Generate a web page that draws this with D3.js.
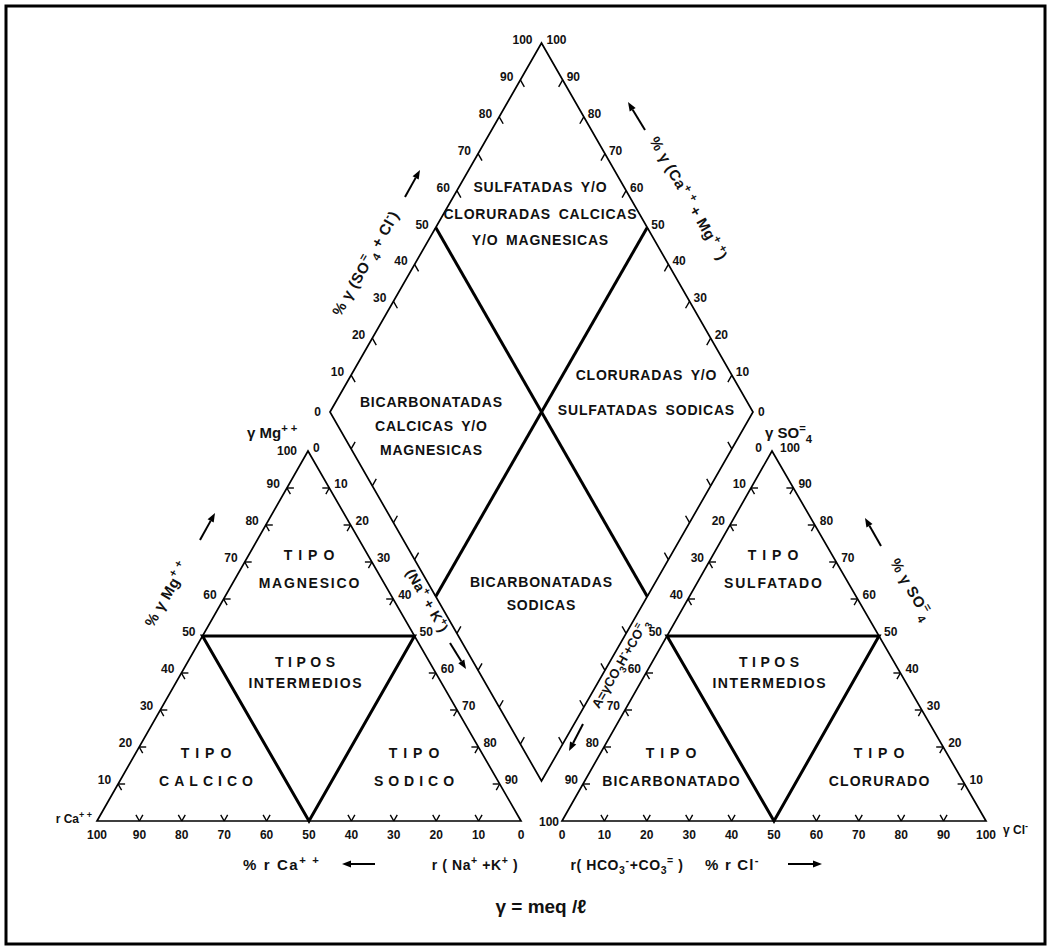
<!DOCTYPE html>
<html>
<head>
<meta charset="utf-8">
<script src="https://cdn.jsdelivr.net/npm/d3@7"></script>
<style>
  body { margin: 0; background: #fff; }
  svg { display: block; }
  text { font-family: "Liberation Sans", Arial, sans-serif; font-weight: bold; fill: #111; }
</style>
</head>
<body>
<script>
// ---- scale divisions (percent of the equivalent sum) ----
const tickValues  = [10, 20, 30, 40, 50, 60, 70, 80, 90];
const scaleLabels = ["10", "20", "30", "40", "50", "60", "70", "80", "90"];
const baseValues  = [0, 10, 20, 30, 40, 50, 60, 70, 80, 90, 100];

// ---- facies names ----
const diamondTop    = ["SULFATADAS Y/O", "CLORURADAS CALCICAS", "Y/O MAGNESICAS"];
const diamondLeft   = ["BICARBONATADAS", "CALCICAS Y/O", "MAGNESICAS"];
const diamondRight  = ["CLORURADAS Y/O", "SULFATADAS SODICAS"];
const diamondBottom = ["BICARBONATADAS", "SODICAS"];
const cationTypes   = [["TIPO", "MAGNESICO"], ["TIPOS", "INTERMEDIOS"], ["TIPO", "CALCICO"], ["TIPO", "SODICO"]];
const anionTypes    = [["TIPO", "SULFATADO"], ["TIPOS", "INTERMEDIOS"], ["TIPO", "BICARBONATADO"], ["TIPO", "CLORURADO"]];

// ---- axis names (^{} superscript, _{} subscript) ----
const titleMg     = "% γ Mg^{+ +}";
const titleSO4Cl  = "% γ (SO^{=}_{4} + Cl^{-})";
const titleCaMg   = "% γ (Ca^{+ +} + Mg^{+ +})";
const titleSO4    = "% γ SO^{=}_{4}";
const titleNaK    = "(Na^{+} + K^{+})";
const titleHCO3   = "A=γCO_{3}H^{-}+CO^{=}_{3}";
const cornerMg    = "γ Mg^{+ +}";
const cornerSO4   = "γ SO^{=}_{4}";
const cornerCa    = "r Ca^{+ +}";
const cornerCl    = "γ Cl^{-}";
const footCa      = "%  r Ca^{+ +}";
const footNaK     = "r ( Na^{+} +K^{+} )";
const footHCO3    = "r( HCO_{3}^{-}+CO_{3}^{=} )";
const footCl      = "%  r Cl^{-}";
const unitNote    = "γ = meq /ℓ";

// ---------------------------------------------------------------
const W = 1052, H = 951;
const svg = d3.select("body").append("svg").attr("width", W).attr("height", H);

svg.append("rect").attr("x", 6).attr("y", 6).attr("width", 1039).attr("height", 938)
  .attr("fill", "none").attr("stroke", "#000").attr("stroke-width", 3);

// corners of the three fields
const LT = { a: [97, 821], b: [521, 821], c: [308, 451] };   // cations
const RT = { a: [562, 821], b: [986, 821], c: [772, 451] };  // anions
const DM = { top: [541.5, 43], left: [330, 412], right: [753, 412], bottom: [541.5, 781] };

// position along an edge: value 0 at p0, 100 at p1
const pct = d3.scaleLinear().domain([0, 100]).range([0, 1]);
function along(p0, p1, v) {
  const t = pct(v);
  return [p0[0] + (p1[0] - p0[0]) * t, p0[1] + (p1[1] - p0[1]) * t];
}
function unit(from, to) {
  const dx = to[0] - from[0], dy = to[1] - from[1], L = Math.hypot(dx, dy);
  return [dx / L, dy / L];
}

const line = d3.line();
const gLines = svg.append("g").attr("fill", "none").attr("stroke", "#000").attr("stroke-linejoin", "miter");

function outline(pts, w) {
  gLines.append("path").attr("d", line(pts) + "Z").attr("stroke-width", w);
}
outline([LT.a, LT.b, LT.c], 1.7);
outline([RT.a, RT.b, RT.c], 1.7);
outline([DM.left, DM.top, DM.right, DM.bottom], 1.7);

// triangle edge ticks: two short strokes pointing into the field
function triTicks(p0, p1, q) {
  const u0 = unit(p0, q), u1 = unit(p1, q), len = 7;
  tickValues.forEach(v => {
    const p = along(p0, p1, v);
    [u0, u1].forEach(u => {
      gLines.append("path").attr("stroke-width", 1.4)
        .attr("d", line([p, [p[0] + u[0] * len, p[1] + u[1] * len]]));
    });
  });
}
triTicks(LT.a, LT.b, LT.c);
triTicks(LT.a, LT.c, LT.b);
triTicks(LT.c, LT.b, LT.a);
triTicks(RT.a, RT.b, RT.c);
triTicks(RT.a, RT.c, RT.b);
triTicks(RT.c, RT.b, RT.a);

// diamond edge ticks: one stroke parallel to the neighbouring edge
function dmTicks(p0, p1, dir) {
  const len = 8;
  tickValues.forEach(v => {
    const p = along(p0, p1, v);
    gLines.append("path").attr("stroke-width", 1.4)
      .attr("d", line([p, [p[0] + dir[0] * len, p[1] + dir[1] * len]]));
  });
}
dmTicks(DM.left, DM.top, unit(DM.top, DM.right));
dmTicks(DM.right, DM.top, unit(DM.top, DM.left));
dmTicks(DM.left, DM.bottom, unit(DM.bottom, DM.right));
dmTicks(DM.right, DM.bottom, unit(DM.bottom, DM.left));

// facies boundaries (50 % lines)
function innerTriangle(T) {
  const p1 = along(T.a, T.c, 50), p2 = along(T.c, T.b, 50), p3 = along(T.a, T.b, 50);
  gLines.append("path").attr("d", line([p1, p2, p3]) + "Z").attr("stroke-width", 3);
}
innerTriangle(LT);
innerTriangle(RT);
gLines.append("path").attr("stroke-width", 3)
  .attr("d", line([along(DM.left, DM.top, 50), along(DM.right, DM.bottom, 50)]));
gLines.append("path").attr("stroke-width", 3)
  .attr("d", line([along(DM.right, DM.top, 50), along(DM.left, DM.bottom, 50)]));

// ---- text helpers ----
function rich(sel, str, size) {
  const re = /([\^_])\{([^}]*)\}|([^\^_]+)/g;
  let m, shift = 0;
  while ((m = re.exec(str))) {
    if (m[3]) {
      sel.append("tspan").attr("dy", -shift).text(m[3]);
      shift = 0;
    } else {
      const d = m[1] === "^" ? -0.42 * size : 0.32 * size;
      sel.append("tspan").attr("dy", d - shift).attr("font-size", size * 0.75).text(m[2]);
      shift = d;
    }
  }
  return sel;
}
function label(x, y, str, size, anchor, rotate, spacing) {
  const t = svg.append("text")
    .attr("font-size", size)
    .attr("text-anchor", anchor || "middle")
    .attr("letter-spacing", spacing || 0)
    .attr("transform", `translate(${x},${y})` + (rotate ? ` rotate(${rotate})` : ""));
  return rich(t, str, size);
}

// ---- scale numbers ----
const gNum = svg.append("g").attr("font-size", 12);
function edgeNumbers(p0, p1, side, dx, dy) {
  tickValues.forEach((v, i) => {
    const p = along(p0, p1, v);
    gNum.append("text").attr("x", p[0] + dx).attr("y", p[1] + dy)
      .attr("text-anchor", side).text(scaleLabels[i]);
  });
}
edgeNumbers(LT.a, LT.c, "end", -7, 0);
edgeNumbers(LT.c, LT.b, "start", 5, 0);
edgeNumbers(RT.c, RT.a, "end", -5, 0);
edgeNumbers(RT.b, RT.c, "start", 5, 0);
edgeNumbers(DM.left, DM.top, "end", -7, 1);
edgeNumbers(DM.right, DM.top, "start", 4, 1);

// base scales
const caScale = d3.scaleLinear().domain([100, 0]).range([LT.a[0], LT.b[0]]);
const clScale = d3.scaleLinear().domain([0, 100]).range([RT.a[0], RT.b[0]]);
baseValues.forEach(v => {
  gNum.append("text").attr("x", caScale(v)).attr("y", LT.a[1] + 18).attr("text-anchor", "middle").text(v);
  gNum.append("text").attr("x", clScale(v)).attr("y", RT.a[1] + 18).attr("text-anchor", "middle").text(v);
});

// corner numbers
function num(x, y, t, anchor) {
  gNum.append("text").attr("x", x).attr("y", y).attr("text-anchor", anchor).text(t);
}
num(LT.c[0] - 11, LT.c[1] + 4, "100", "end");
num(LT.c[0] + 5, LT.c[1] + 1, "0", "start");
num(RT.c[0] - 10, RT.c[1] + 1, "0", "end");
num(RT.c[0] + 8, RT.c[1] + 1, "100", "start");
num(RT.a[0] - 3, RT.a[1] + 5, "100", "end");
num(DM.top[0] - 9, DM.top[1] + 1, "100", "end");
num(DM.top[0] + 5, DM.top[1] + 1, "100", "start");
num(DM.left[0] - 9, DM.left[1] + 4, "0", "end");
num(DM.right[0] + 5, DM.right[1] + 4, "0", "start");

// ---- facies names ----
function block(lines, x, y, gap, spacings) {
  lines.forEach((s, i) => {
    const ls = spacings ? spacings[i] : 0.8;
    svg.append("text").attr("x", x + ls / 2).attr("y", y + i * gap)
      .attr("font-size", 14).attr("text-anchor", "middle")
      .attr("letter-spacing", ls).attr("word-spacing", 3).text(s);
  });
}
block(diamondTop, 540, 192, 26.5);
block(diamondLeft, 431, 407, 24);
block(diamondRight, 646, 380, 35);
block(diamondBottom, 541, 587, 23);

function typeBlocks(T, names) {
  const cx = T.c[0];
  block(names[0], cx + 1, T.c[1] + 109, 28, [6, 1.8]);
  block(names[1], cx - 3, T.c[1] + 216, 21, [4.5, 1.6]);
  block(names[2], T.a[0] + 109, T.a[1] - 63, 28, [6, T === RT ? 1.2 : 5]);
  block(names[3], T.b[0] - 107, T.b[1] - 63, 28, [6, T === RT ? 1.2 : 5]);
}
typeBlocks(LT, cationTypes);
typeBlocks(RT, anionTypes);

// ---- axis names ----
label(171, 597, titleMg, 15, "middle", -60, 0.5);
label(370, 266, titleSO4Cl, 15, "middle", -60, 0.5);
label(684, 201, titleCaMg, 15, "middle", 60, 0.5);
label(907, 592, titleSO4, 15, "middle", 60, 0.5);
label(423, 603, titleNaK, 14, "middle", 60, 0.5);
label(624, 666, titleHCO3, 13, "middle", -60, 0);

label(247, 438, cornerMg, 15, "start");
label(765, 438, cornerSO4, 15, "start");
label(92, 823, cornerCa, 12, "end");
label(1003, 834, cornerCl, 12, "start");

label(243, 870, footCa, 15, "start", 0, 1.6);
label(475, 870, footNaK, 14, "middle", 0, 0.6);
label(627, 870, footHCO3, 14, "middle", 0, 0.6);
label(705, 870, footCl, 15, "start", 0, 1.2);
label(541, 913, unitNote, 19, "middle", 0, 0);

// ---- direction arrows ----
function arrow(x1, y1, x2, y2) {
  const u = unit([x1, y1], [x2, y2]);
  const n = [-u[1], u[0]], hl = 9, hw = 3.5;
  const base = [x2 - u[0] * hl, y2 - u[1] * hl];
  svg.append("path").attr("fill", "none").attr("stroke", "#000").attr("stroke-width", 2)
    .attr("d", line([[x1, y1], base]));
  svg.append("path").attr("fill", "#000")
    .attr("d", line([[x2, y2], [base[0] + n[0] * hw, base[1] + n[1] * hw], [base[0] - n[0] * hw, base[1] - n[1] * hw]]) + "Z");
}
arrow(200, 540, 215, 513);
arrow(405, 197, 420, 170);
arrow(645, 130, 628, 102);
arrow(881, 546, 865, 518);
arrow(450, 643, 466, 669);
arrow(583, 724, 569, 751);
arrow(375, 864, 342, 864);
arrow(788, 864, 822, 864);
</script>
</body>
</html>
